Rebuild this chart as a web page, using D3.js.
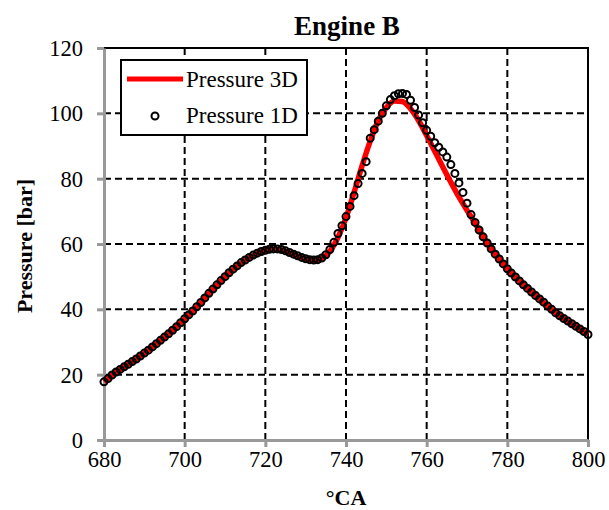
<!DOCTYPE html>
<html>
<head>
<meta charset="utf-8">
<script src="https://cdn.jsdelivr.net/npm/d3@7"></script>
<style>
  body { margin: 0; background: #fff; }
  text { font-family: "Liberation Serif", "Times New Roman", serif; }
</style>
</head>
<body>
<div id="wrapper"></div>
<script>
// crank angle steps
const ca3d = d3.range(680, 801, 2)
const ca1d = d3.range(680, 801, 1)

const pressure3d = [
  17.8, 19.9, 21.6, 23.2, 24.8, 26.6, 28.5, 30.5, 32.5, 34.7,
  37.0, 39.4, 42.0, 44.8, 47.4, 49.9, 52.2, 54.2, 55.8, 57.1,
  58.0, 58.4, 58.2, 57.3, 56.3, 55.4, 55.0, 55.6, 57.8, 62.0,
  68.0, 75.8, 84.0, 91.5, 97.8, 101.8, 103.8, 103.6, 101.4, 97.8,
  93.2, 88.4, 83.6, 78.9, 74.4, 70.3, 66.4, 62.2, 58.5, 55.4,
  52.4, 49.9, 47.5, 45.3, 43.2, 41.0, 38.9, 37.2, 35.6, 34.0, 32.3
]

const pressure1d = [
  17.8, 18.8, 19.9, 20.8, 21.6, 22.4, 23.2, 24.0, 24.8, 25.7,
  26.6, 27.5, 28.5, 29.5, 30.5, 31.5, 32.5, 33.6, 34.7, 35.9,
  37.1, 38.3, 39.5, 40.8, 42.1, 43.5, 44.9, 46.2, 47.5, 48.8,
  50.0, 51.2, 52.3, 53.3, 54.3, 55.1, 55.9, 56.6, 57.2, 57.7,
  58.1, 58.4, 58.5, 58.5, 58.3, 57.9, 57.4, 56.9, 56.4, 55.9,
  55.5, 55.2, 55.1, 55.2, 55.7, 56.7, 58.3, 60.5, 63.2, 65.6,
  68.4, 71.5, 74.8, 78.5, 81.6, 85.2, 92.4, 95.0, 97.6, 100.0,
  102.3, 104.2, 105.4, 106.0, 106.1, 105.8, 104.0, 101.8, 99.5, 97.1,
  94.8, 93.0, 91.0, 89.6, 88.2, 86.6, 84.3, 81.6, 78.7, 75.8,
  72.5, 69.0, 66.6, 64.3, 62.2, 60.3, 58.5, 56.9, 55.4, 53.9,
  52.4, 51.1, 49.9, 48.7, 47.5, 46.4, 45.3, 44.2, 43.2, 42.2,
  41.0, 40.0, 38.9, 38.0, 37.2, 36.4, 35.6, 34.8, 34.0, 33.2, 32.3
]

const xTicks = [680, 700, 720, 740, 760, 780, 800]
const yTicks = [0, 20, 40, 60, 80, 100, 120]
const seriesNames = ["Pressure 3D", "Pressure 1D"]

const dimension = {
  width: 609,
  height: 510,
  margin: { top: 48, left: 104, right: 21, bottom: 70 }
}
dimension.boundedWidth = dimension.width - dimension.margin.left - dimension.margin.right
dimension.boundedHeight = dimension.height - dimension.margin.top - dimension.margin.bottom

const svg = d3.select("#wrapper")
  .append("svg")
  .attr("width", dimension.width)
  .attr("height", dimension.height)

const bounds = svg.append("g")
  .attr("transform", `translate(${dimension.margin.left},${dimension.margin.top})`)

const x = d3.scaleLinear().domain([680, 800]).range([0, dimension.boundedWidth])
const y = d3.scaleLinear().domain([0, 120]).range([dimension.boundedHeight, 0])

// dashed grid
bounds.append("g")
  .selectAll("line")
  .data(xTicks.slice(1, -1))
  .join("line")
  .attr("x1", d => x(d)).attr("x2", d => x(d))
  .attr("y1", 0).attr("y2", dimension.boundedHeight)
  .attr("stroke", "#000").attr("stroke-width", 2).attr("stroke-dasharray", "7,4")

bounds.append("g")
  .selectAll("line")
  .data(yTicks.slice(1, -1))
  .join("line")
  .attr("x1", 0).attr("x2", dimension.boundedWidth)
  .attr("y1", d => y(d)).attr("y2", d => y(d))
  .attr("stroke", "#000").attr("stroke-width", 2).attr("stroke-dasharray", "7,4")

// top + right border
bounds.append("path")
  .attr("d", `M0,0H${dimension.boundedWidth}V${dimension.boundedHeight}`)
  .attr("fill", "none").attr("stroke", "#000").attr("stroke-width", 2)

// axes
const xAxis = bounds.append("g")
  .attr("transform", `translate(0,${dimension.boundedHeight})`)
  .call(d3.axisBottom(x).tickValues(xTicks).tickSize(7).tickSizeOuter(0))
const yAxis = bounds.append("g")
  .call(d3.axisLeft(y).tickValues(yTicks).tickSize(7).tickSizeOuter(0))

;[xAxis, yAxis].forEach(ax => {
  ax.attr("font-family", "Liberation Serif").attr("font-size", 22.5)
  ax.select(".domain").attr("stroke", "#999").attr("stroke-width", 3)
  ax.selectAll(".tick line").attr("stroke", "#999").attr("stroke-width", 3)
  ax.selectAll(".tick text")
    .attr("fill", "#000")
    .style("font-family", "Liberation Serif")
    .style("font-size", "22.5px")
})
xAxis.selectAll(".tick text").attr("y", 27).attr("dy", null)
yAxis.selectAll(".tick text").attr("x", -21).attr("dy", "0.34em")

// 3D line
const line = d3.line()
  .x((d, i) => x(ca3d[i]))
  .y(d => y(d))
  .curve(d3.curveMonotoneX)

bounds.append("path")
  .datum(pressure3d)
  .attr("d", line)
  .attr("fill", "none")
  .attr("stroke", "#ff0000")
  .attr("stroke-width", 5.5)

// 1D circles
bounds.append("g")
  .selectAll("circle")
  .data(pressure1d)
  .join("circle")
  .attr("cx", (d, i) => x(ca1d[i]))
  .attr("cy", d => y(d))
  .attr("r", 3.5)
  .attr("fill", "none")
  .attr("stroke", "#000")
  .attr("stroke-width", 2)

// legend
const legend = svg.append("g").attr("transform", "translate(121,60)")
legend.append("rect")
  .attr("width", 186).attr("height", 75)
  .attr("fill", "#fff").attr("stroke", "#000").attr("stroke-width", 2)
legend.append("line")
  .attr("x1", 6).attr("x2", 62).attr("y1", 19).attr("y2", 19)
  .attr("stroke", "#ff0000").attr("stroke-width", 5)
legend.append("circle")
  .attr("cx", 34).attr("cy", 56).attr("r", 3.5)
  .attr("fill", "none").attr("stroke", "#000").attr("stroke-width", 2)
legend.selectAll("text.lbl")
  .data(seriesNames)
  .join("text")
  .attr("class", "lbl")
  .attr("x", 65)
  .attr("y", (d, i) => 27 + i * 36)
  .style("font-size", "23px")
  .text(d => d)

// titles
svg.append("text")
  .attr("x", 347)
  .attr("y", 35)
  .attr("text-anchor", "middle")
  .style("font-size", "27px").style("font-weight", "bold")
  .text("Engine B")

svg.append("text")
  .attr("x", dimension.margin.left + dimension.boundedWidth / 2)
  .attr("y", 505)
  .attr("text-anchor", "middle")
  .style("font-size", "22px").style("font-weight", "bold")
  .text("°CA")

svg.append("text")
  .attr("transform", `translate(32,${dimension.margin.top + dimension.boundedHeight / 2 + 2}) rotate(-90)`)
  .attr("text-anchor", "middle")
  .style("font-size", "22px").style("font-weight", "bold")
  .text("Pressure [bar]")
</script>
</body>
</html>
